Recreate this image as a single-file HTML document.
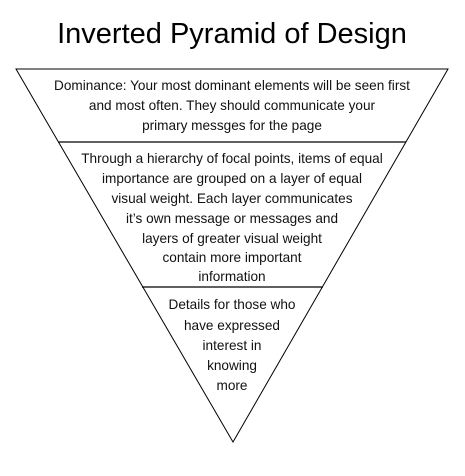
<!DOCTYPE html>
<html><head><style>
body{margin:0;background:#fff;width:465px;height:471px;overflow:hidden;font-family:"Liberation Sans",Arial,sans-serif}
</style></head><body>
<svg width="465" height="471" xmlns="http://www.w3.org/2000/svg" font-family="Liberation Sans, Arial, sans-serif">
<text x="232" y="43" font-size="29" text-anchor="middle" fill="#000">Inverted Pyramid of Design</text>
<polygon points="16,69 448,69 233,442" fill="none" stroke="#000" stroke-width="1"/>
<line x1="58" y1="142" x2="406" y2="142" stroke="#000" stroke-width="1.2"/>
<line x1="142" y1="287" x2="323" y2="287" stroke="#000" stroke-width="1.2"/>
<g font-size="13.6" text-anchor="middle" fill="#111">
<text x="232" y="90">Dominance: Your most dominant elements will be seen first</text>
<text x="232" y="110">and most often. They should communicate your</text>
<text x="232" y="130">primary messges for the page</text>
<text x="232" y="163">Through a hierarchy of focal points, items of equal</text>
<text x="232" y="183">importance are grouped on a layer of equal</text>
<text x="232" y="203">visual weight. Each layer communicates</text>
<text x="232" y="223">it’s own message or messages and</text>
<text x="232" y="243">layers of greater visual weight</text>
<text x="232" y="262">contain more important</text>
<text x="232" y="281">information</text>
<text x="232" y="309">Details for those who</text>
<text x="232" y="330">have expressed</text>
<text x="232" y="350">interest in</text>
<text x="232" y="370">knowing</text>
<text x="232" y="390">more</text>
</g>
</svg>
</body></html>
